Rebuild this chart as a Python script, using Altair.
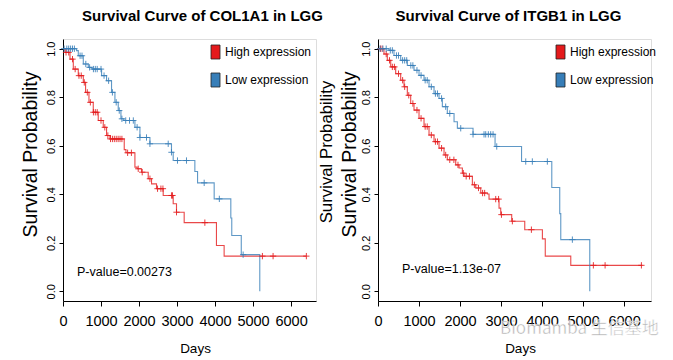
import altair as alt
import pandas as pd

MAX_T = 6656
X_TICKS = [0, 1000, 2000, 3000, 4000, 5000, 6000]
Y_TICKS = [0.0, 0.2, 0.4, 0.6, 0.8, 1.0]
GROUPS = ["High expression", "Low expression"]
COLORS = ["#E41A1C", "#377EB8"]
SANS = "Liberation Sans, Arial, sans-serif"

# ---------------- COL1A1 panel ----------------
col_high_t = [0, 53, 184, 271, 402, 534, 594, 683, 796, 927, 1059, 1146, 1235, 1611, 1656,
              1892, 1950, 2066, 2242, 2329, 2460, 2636, 2899, 2986, 3188, 4037, 4239, 6402]
col_high_s = [1.0, 0.985, 0.957, 0.916, 0.889, 0.861, 0.82, 0.779, 0.738, 0.704, 0.676, 0.642,
              0.628, 0.584, 0.571, 0.512, 0.505, 0.491, 0.464, 0.443, 0.423, 0.395, 0.361,
              0.326, 0.283, 0.189, 0.145, 0.145]
col_high_cens = [80, 150, 250, 320, 420, 480, 560, 640, 720, 800, 850, 900, 1000, 1100, 1180,
                 1250, 1300, 1350, 1400, 1450, 1500, 1550, 1700, 1800, 1979, 2084, 2287, 2487,
                 2576, 2629, 2854, 2881, 2986, 3732, 5246, 5527, 6402]

col_low_t = [0, 357, 402, 534, 665, 760, 1015, 1146, 1277, 1366, 1453, 1524, 1600, 1892, 2024,
             2287, 2854, 2899, 3469, 3540, 3977, 4415, 4440, 4690, 5177]
col_low_s = [1.0, 0.992, 0.971, 0.937, 0.923, 0.916, 0.889, 0.868, 0.82, 0.779, 0.745, 0.711,
             0.704, 0.676, 0.634, 0.608, 0.573, 0.539, 0.494, 0.447, 0.381, 0.302, 0.23,
             0.151, 0.0]
col_low_cens = [30, 100, 150, 200, 250, 300, 450, 500, 600, 700, 800, 850, 900, 1000, 1080,
                1200, 1300, 1400, 1480, 1550, 1650, 1750, 1850, 1950, 2024, 2197, 2287, 2768,
                2854, 3012, 3249, 3714, 4113, 4739]

# ---------------- ITGB1 panel ----------------
itg_high_t = [0, 146, 227, 310, 431, 553, 634, 715, 797, 878, 1000, 1122, 1244, 1366, 1488,
              1610, 1690, 1895, 1976, 2057, 2098, 2301, 2383, 2505, 2666, 2707, 2951, 2992,
              3260, 3578, 4008, 4078, 4700, 6446]
itg_high_s = [1.0, 0.978, 0.952, 0.925, 0.897, 0.87, 0.843, 0.808, 0.774, 0.747, 0.713, 0.679,
              0.644, 0.617, 0.59, 0.562, 0.542, 0.521, 0.508, 0.487, 0.474, 0.439, 0.426,
              0.405, 0.401, 0.38, 0.343, 0.316, 0.289, 0.254, 0.216, 0.145, 0.107, 0.107]
itg_high_cens = [60, 100, 200, 280, 350, 400, 500, 600, 650, 750, 850, 950, 1050, 1150, 1200,
                 1300, 1400, 1450, 1550, 1650, 1750, 1850, 1950, 2080, 2150, 2230, 2350, 2450,
                 2550, 2600, 2870, 2940, 3010, 3276, 3740, 5251, 5537, 6422]

itg_low_t = [0, 268, 390, 553, 715, 878, 1000, 1122, 1244, 1366, 1488, 1569, 1690, 1854, 1935,
             2317, 2854, 3500, 4237, 4431, 4456, 5163]
itg_low_s = [1.0, 0.993, 0.972, 0.952, 0.931, 0.911, 0.89, 0.87, 0.843, 0.815, 0.795, 0.761,
             0.733, 0.699, 0.672, 0.647, 0.597, 0.535, 0.428, 0.32, 0.213, 0.0]
itg_low_cens = [50, 120, 200, 300, 350, 450, 500, 600, 650, 700, 800, 850, 950, 1050, 1150,
                1200, 1300, 1400, 1450, 1550, 1650, 1750, 2017, 2317, 2585, 2626, 2690, 2748,
                2805, 2895, 3602, 3763, 4129, 4739]


def step_at(ts, ss, t):
    v = ss[0]
    for ti, si in zip(ts, ss):
        if ti <= t:
            v = si
        else:
            break
    return v


def build_frames(curves):
    rows, crows = [], []
    for grp, ts, ss, cens in curves:
        for t, s in zip(ts, ss):
            rows.append({"group": grp, "t": t, "s": s})
        for c in cens:
            crows.append({"group": grp, "t": c, "s": step_at(ts, ss, c)})
    return pd.DataFrame(rows), pd.DataFrame(crows)


def panel(title, title_dx, curves, pval, pval_xy, width, ytitle_x, days_x,
          leg_x, extra_title=False, watermark=False):
    lines_df, cens_df = build_frames(curves)
    cscale = alt.Scale(domain=GROUPS, range=COLORS)
    x = alt.X("t:Q", scale=alt.Scale(domain=[0, MAX_T], nice=False, zero=False),
              axis=alt.Axis(values=X_TICKS, format="d", title="Days", grid=False, tickSize=5,
                            labelFont=SANS, labelFontSize=14.5, labelColor="black",
                            labelPadding=8, titleFont=SANS, titleFontSize=13.5,
                            titleFontWeight="normal", titleColor="black", titlePadding=14,
                            titleX=days_x, domainColor="black", tickColor="black",
                            labelFlush=False))
    y = alt.Y("s:Q", scale=alt.Scale(domain=[-0.04, 1.04], nice=False, zero=False),
              axis=alt.Axis(values=Y_TICKS, format=".1f", title="Survival Probability",
                            grid=False, tickSize=4, labelAngle=270, labelFont=SANS,
                            labelFontSize=11, labelColor="black", labelPadding=5,
                            labelBaseline="alphabetic", labelAlign="center",
                            titleFont=SANS, titleFontSize=19.5, titleFontWeight="normal",
                            titleColor="black", titleX=ytitle_x, titleY=115,
                            titleBaseline="alphabetic", titleAngle=270,
                            domainColor="black", tickColor="black"))
    color = alt.Color("group:N", scale=cscale, legend=None)
    lines = alt.Chart(lines_df).mark_line(interpolate="step-after", strokeWidth=1.1,
                                          opacity=0.8).encode(x=x, y=y, color=color,
                                                              detail="group:N")
    cens = alt.Chart(cens_df).mark_point(shape="M-1,0L1,0M0,-1L0,1", size=40, filled=False,
                                         strokeWidth=1, opacity=0.85).encode(x=x, y=y,
                                                                            color=color)
    one = pd.DataFrame({"k": [0]})
    layers = [lines, cens]
    # legend (drawn inside the plot box)
    for i, (lab, col) in enumerate(zip(GROUPS, COLORS)):
        top = 6 + 28 * i
        layers.append(alt.Chart(one).mark_rect(color=col, stroke="#222", strokeWidth=0.8)
                      .encode(x=alt.value(leg_x), x2=alt.value(leg_x + 9),
                              y=alt.value(top), y2=alt.value(top + 14)))
        layers.append(alt.Chart(pd.DataFrame({"label": [lab]}))
                      .mark_text(align="left", baseline="middle", font=SANS, fontSize=12,
                                 color="black")
                      .encode(x=alt.value(leg_x + 14), y=alt.value(top + 7), text="label:N"))
    layers.append(alt.Chart(pd.DataFrame({"label": [pval]}))
                  .mark_text(align="left", baseline="middle", font=SANS, fontSize=12.5,
                             color="black")
                  .encode(x=alt.value(pval_xy[0]), y=alt.value(pval_xy[1]), text="label:N"))
    if extra_title:
        layers.append(alt.Chart(pd.DataFrame({"label": ["Survival Probability"]}))
                      .mark_text(align="center", baseline="alphabetic", angle=270, font=SANS,
                                 fontSize=16.8, color="black")
                      .encode(x=alt.value(-46), y=alt.value(113), text="label:N"))
    if watermark:
        layers.append(alt.Chart(pd.DataFrame({"label": ["Biomamba 生信基地"]}))
                      .mark_text(align="left", baseline="middle",
                                 font="Noto Sans CJK SC, sans-serif", fontSize=17,
                                 color="#a8a8a8", opacity=0.9, stroke="white",
                                 strokeWidth=0.5)
                      .encode(x=alt.value(122), y=alt.value(290), text="label:N"))
    return alt.layer(*layers).properties(
        width=width, height=262,
        title=alt.Title(title, font=SANS, fontSize=15, fontWeight="bold", color="black",
                        anchor="middle", dx=title_dx, offset=15))


left = panel("Survival Curve of  COL1A1 in LGG", 13,
             [(GROUPS[0], col_high_t, col_high_s, col_high_cens),
              (GROUPS[1], col_low_t, col_low_s, col_low_cens)],
             "P-value=0.00273", (14, 233), 253, -26.4, 132, 148)
right = panel("Survival Curve of  ITGB1 in LGG", -6,
              [(GROUPS[0], itg_high_t, itg_high_s, itg_high_cens),
               (GROUPS[1], itg_low_t, itg_low_s, itg_low_cens)],
              "P-value=1.13e-07", (24, 230), 273, -22.4, 142, 178,
              extra_title=True, watermark=True)

chart = alt.hconcat(left, right, spacing=62, bounds="flush").properties(
    padding={"left": 12, "top": 0, "right": 0, "bottom": 0}
).configure_view(stroke="#333", strokeWidth=1).configure(background="white")

chart.save("out.html", embed_options={"renderer": "svg", "actions": False})
